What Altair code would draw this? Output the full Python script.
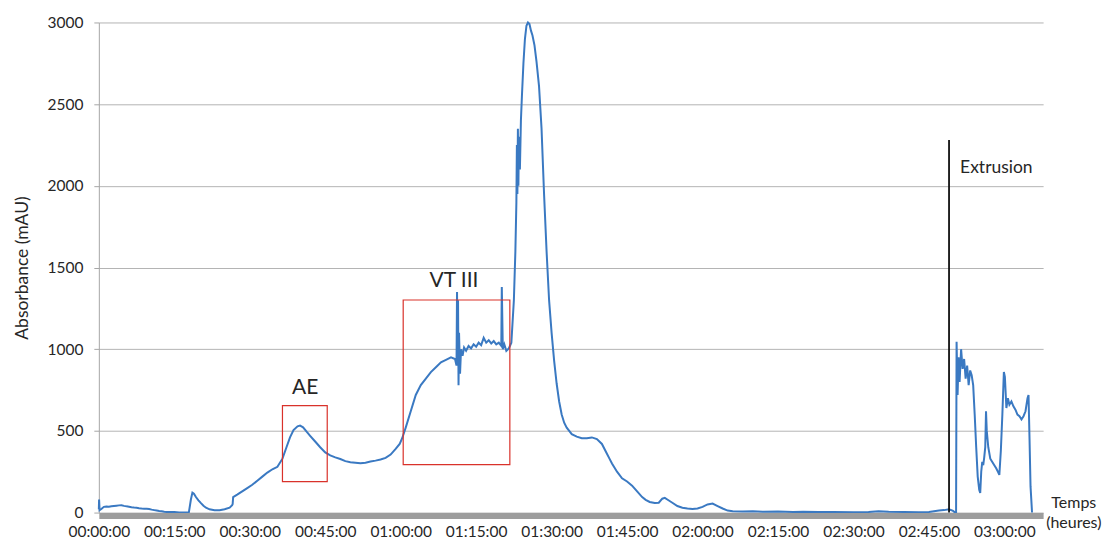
import altair as alt
import pandas as pd

# ---- trace data (time in minutes, absorbance in mAU) ----
time_min = [
    0, 0.05, 0.15, 0.5, 1, 1.5, 2, 2.5, 3, 3.5, 4, 4.5, 5, 5.5, 6, 6.5, 7, 7.5, 8, 8.5,
    9, 9.5, 10, 10.5, 11, 11.5, 12, 12.5, 13, 13.5, 14, 14.5, 15, 15.5, 16,
    16.5, 17.5, 17.9, 18.3, 18.6, 18.9, 19.3, 19.8, 20.3, 20.8, 21.3, 22, 23, 24, 25, 26,
    26.5, 26.6, 26.7, 27.5, 28.5, 29.5, 30.5, 31.5, 32.5, 33.5, 34.5, 35.5, 36.5, 37.3,
    38, 38.7, 39.5, 40, 40.6, 41.3, 42, 43, 44, 45, 46, 47, 48, 49, 50, 51, 52, 53, 54,
    55, 56, 57, 58, 59, 59.8, 60.3, 61, 62, 63, 64, 65, 66, 67, 68, 69, 70, 70.8, 71.1,
    71.2, 71.3, 71.4, 71.5, 71.6, 71.8, 72, 72.3, 72.6, 73, 73.5, 74, 74.5, 75, 75.5, 76,
    76.5, 77, 77.5, 78, 78.5, 79, 79.5, 80, 80.1, 80.3, 80.6, 81, 81.5, 82, 82.5, 82.8,
    83, 83.1, 83.2, 83.3, 83.4, 83.5, 83.7, 83.9, 84.1, 84.4, 84.7, 85, 85.3, 85.6, 85.9,
    86.2, 86.6, 87, 87.5, 88, 88.5, 89, 89.5, 90, 90.5, 91, 91.5, 92, 92.5, 93, 93.5, 94,
    95, 96, 97, 98, 99, 100, 101, 101.5, 102, 103, 104, 105, 106, 107, 108, 108.7, 109.5,
    110.5, 111.3, 112, 112.5, 113, 114, 115, 116, 117, 118, 119, 120, 121, 122, 123, 124,
    125, 126, 128, 130, 132, 135, 138, 140, 143, 146, 150, 153, 155, 157, 160, 163, 165,
    166, 167, 168, 169, 169.8, 170.2, 170.4, 170.5, 170.7, 170.9, 171.1, 171.4, 171.7, 172,
    172.3, 172.6, 172.9, 173.2, 173.5, 173.8, 174.1, 174.4, 174.7, 175, 175.2, 175.4, 175.6,
    175.8, 176, 176.2, 176.35, 176.5, 176.8, 177.2, 177.6, 178, 178.4, 178.8, 179, 179.3,
    179.6, 179.9, 180.1, 180.4, 180.7, 181, 181.4, 181.8, 182.2, 182.6, 183, 183.4, 183.8,
    184.2, 184.6, 184.8, 185, 185.2, 185.5,
]
absorbance = [
    20, 80, 15, 22, 35, 37, 35, 38, 40, 42, 44, 45, 41, 38, 36, 33, 31, 30, 27, 25,
    24, 23, 22, 18, 15, 12, 9, 8, 5, 4, 3, 4, 3, 2, 1,
    0, 0, 2, 80, 122, 115, 95, 75, 58, 42, 30, 20, 14, 14, 20, 30,
    45, 52, 95, 110, 130, 150, 170, 195, 220, 245, 265, 280, 330, 400,
    460, 505, 528, 532, 522, 495, 470, 435, 400, 368, 350, 338, 328, 315, 308, 305, 302, 305, 312,
    318, 325, 335, 355, 390, 420, 455, 520, 620, 720, 780, 820, 860, 890, 920, 935, 950, 940, 900,
    1350, 1000, 1300, 780, 1100, 850, 1000, 960, 1010, 990, 1020, 1005, 1030, 1015, 1040, 1025,
    1070, 1040, 1055, 1035, 1050, 1030, 1040, 1020, 1380, 1000, 1030, 990, 1005, 1040, 1300, 1600,
    1900, 2250, 1950, 2350, 2000, 2300, 2100, 2400, 2550, 2750, 2900, 2980, 3000, 2990, 2950,
    2920, 2860, 2760, 2610, 2350, 1950, 1600, 1300, 1100, 930, 790, 680, 600, 550, 520, 500, 480,
    465, 455, 455, 460, 450, 420, 360, 330, 300, 250, 210, 190, 165, 130, 95, 78, 65,
    58, 60, 85, 90, 80, 60, 40, 30, 25, 22, 25, 35, 50, 55, 40, 25,
    12, 8, 6, 8, 5, 6, 4, 5, 3, 4, 2, 3, 8, 5, 3, 2, 4,
    8, 12, 15, 20, 10, 0, 0, 1046, 720, 950, 800, 1000, 880, 940,
    820, 900, 780, 870, 840, 780, 600, 400, 220, 140, 120, 250, 310,
    290, 340, 400, 620, 500, 400, 330, 310, 290, 270, 245, 230, 380,
    600, 860, 830, 640, 700, 660, 680, 650, 630, 600, 590, 570, 590,
    620, 700, 720, 450, 160, 0,
]

# ---- annotations ----
box_t1 = [36.5, 60.5]
box_t2 = [45.4, 81.7]
box_v1 = [189, 293]
box_v2 = [654, 1301]

label_text = ["AE", "VT III"]
label_t = [41.0, 70.6]
label_v = [764, 1420]

extrusion_t = [169.0]
extrusion_v = [2280]
extrusion_label = ["Extrusion"]
extrusion_label_t = [171.2]
extrusion_label_v = [2107]

axis_label_text = ["Temps", "(heures)"]
axis_label_t = [193.8, 193.8]
axis_label_v = [61, -61]

x_ticks = [0, 15, 30, 45, 60, 75, 90, 105, 120, 135, 150, 165, 180]
x_tick_labels = ["00:00:00", "00:15:00", "00:30:00", "00:45:00", "01:00:00", "01:15:00",
                 "01:30:00", "01:45:00", "02:00:00", "02:15:00", "02:30:00", "02:45:00",
                 "03:00:00"]
y_ticks = [0, 500, 1000, 1500, 2000, 2500, 3000]

FONT = "Lato"

label_expr = ""
for v, lab in zip(x_ticks, x_tick_labels):
    label_expr += f"datum.value == {v} ? '{lab}' : "
label_expr += "''"

trace = pd.DataFrame({"t": time_min, "v": absorbance})
boxes = pd.DataFrame({"t1": box_t1, "t2": box_t2, "v1": box_v1, "v2": box_v2})
labels = pd.DataFrame({"t": label_t, "v": label_v, "txt": label_text})
rule_df = pd.DataFrame({"t": extrusion_t, "v0": [0], "v": extrusion_v})
ext_df = pd.DataFrame({"t": extrusion_label_t, "v": extrusion_label_v, "txt": extrusion_label})
axl_df = pd.DataFrame({"t": axis_label_t, "v": axis_label_v, "txt": axis_label_text})

x_scale = alt.Scale(domain=[0, 187.7], nice=False, zero=False)
y_scale = alt.Scale(domain=[0, 3000], nice=False)

x_axis = alt.Axis(values=x_ticks, labelExpr=label_expr, grid=False, ticks=False,
                  domainColor="#9d9d9d", domainWidth=6, offset=3, labelPadding=9,
                  labelFont=FONT, labelFontSize=15.5, labelColor="#262626",
                  title=None, zindex=1, labelFlush=False, labelOverlap=False)
y_axis = alt.Axis(values=y_ticks, format="d", grid=True, gridColor="#b4b4b4", gridWidth=1,
                  domainColor="#a6a6a6", tickColor="#a6a6a6", tickSize=5,
                  labelPadding=11, labelFont=FONT, labelFontSize=15.5, labelColor="#262626",
                  title="Absorbance (mAU)", titleFont=FONT, titleFontSize=17.5,
                  titleFontWeight="normal", titleColor="#262626", titlePadding=16)

line = alt.Chart(trace).mark_line(color="#3a79c2", strokeWidth=2).encode(
    x=alt.X("t:Q", scale=x_scale, axis=x_axis),
    y=alt.Y("v:Q", scale=y_scale, axis=y_axis),
)

rects = alt.Chart(boxes).mark_rect(fillOpacity=0, stroke="#d9322b", strokeWidth=1.2).encode(
    x="t1:Q", x2="t2:Q", y="v1:Q", y2="v2:Q"
)

rule = alt.Chart(rule_df).mark_rule(color="#111111", strokeWidth=1.8).encode(
    x="t:Q", y="v0:Q", y2="v:Q"
)

txt = alt.Chart(labels).mark_text(font=FONT, fontSize=21, color="#262626",
                                  align="center", baseline="middle").encode(
    x="t:Q", y="v:Q", text="txt:N"
)

ext = alt.Chart(ext_df).mark_text(font=FONT, fontSize=17.5, color="#262626",
                                  align="left", baseline="middle").encode(
    x="t:Q", y="v:Q", text="txt:N"
)

axl = alt.Chart(axl_df).mark_text(font=FONT, fontSize=16, color="#262626",
                                  align="center", baseline="middle").encode(
    x="t:Q", y="v:Q", text="txt:N"
)

chart = alt.layer(line, rects, rule, txt, ext, axl).properties(
    width=946, height=491,
    autosize=alt.AutoSizeParams(type="none"),
    padding={"left": 91, "top": 14, "right": 61, "bottom": 27},
).configure_view(stroke=None)

chart.save("out.html", embed_options={"renderer": "svg", "actions": False})
